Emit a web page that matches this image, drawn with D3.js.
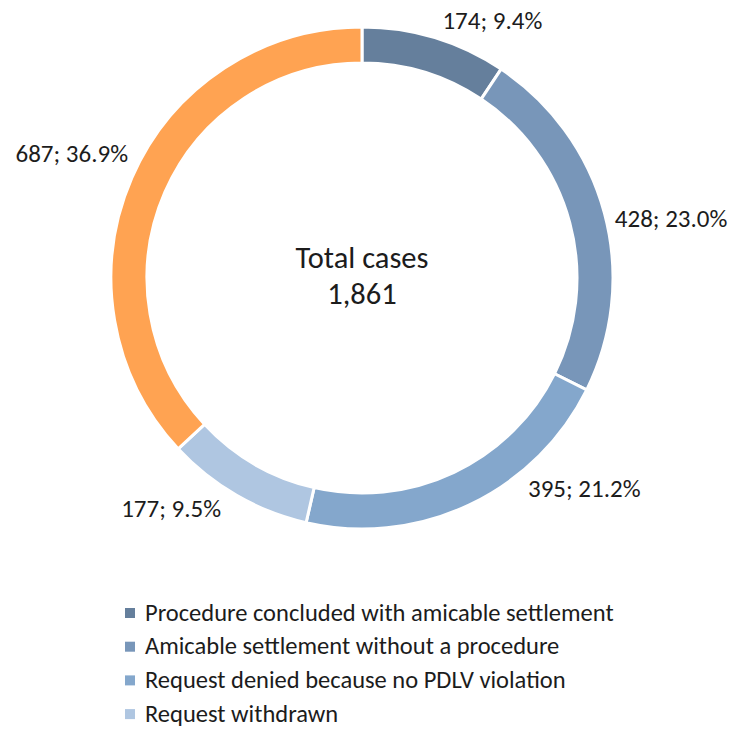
<!DOCTYPE html>
<html>
<head>
<meta charset="utf-8">
<script src="https://cdn.jsdelivr.net/npm/d3@7"></script>
<style>
  html, body { margin: 0; padding: 0; background: #ffffff; }
  svg { display: block; }
  text { font-family: Carlito, Calibri, Lato, sans-serif; fill: #1c1c1c; }
</style>
</head>
<body>
<svg id="chart" width="734" height="729"></svg>
<script>
// Case outcomes, drawn clockwise from twelve o'clock
const categories = [
  "Procedure concluded with amicable settlement",
  "Amicable settlement without a procedure",
  "Request denied because no PDLV violation",
  "Request withdrawn",
  "Other"
];
const caseCounts = [174, 428, 395, 177, 687];
const sharePct = [9.4, 23.0, 21.2, 9.5, 36.9];
const totalLabel = "Total cases";
const totalCases = 1861;
const sliceColors = ["#657f9c", "#7896b9", "#84a7cc", "#afc6e1", "#ffa352"];
// categories shown in the legend (first four)
const legendCount = 4;

// fine placement of each value label relative to its slice
const labelNudge = [[2, 2], [-9, 10], [50, -35], [-5.5, -4.5], [14.5, -16]];

const W = 734, H = 729;
const cx = 362, cy = 278;
const outerR = 251, innerR = 215;

const svg = d3.select("#chart");
const g = svg.append("g").attr("transform", `translate(${cx},${cy})`);

const data = categories.map((c, i) => ({ name: c, value: caseCounts[i], pct: sharePct[i], color: sliceColors[i], i }));

const pie = d3.pie().value(d => d.value).sort(null);
const arcs = pie(data);

const arc = d3.arc().innerRadius(innerR).outerRadius(outerR);
const labelArc = d3.arc().innerRadius(outerR + 20).outerRadius(outerR + 20);

g.selectAll("path.slice")
  .data(arcs)
  .join("path")
  .attr("class", "slice")
  .attr("d", arc)
  .attr("fill", d => d.data.color)
  .attr("stroke", "#ffffff")
  .attr("stroke-width", 3)
  .attr("stroke-linejoin", "miter");

const fmt = d3.format(",");
g.selectAll("text.val")
  .data(arcs)
  .join("text")
  .attr("class", "val")
  .attr("x", d => labelArc.centroid(d)[0] + labelNudge[d.index][0])
  .attr("y", d => labelArc.centroid(d)[1] + labelNudge[d.index][1])
  .attr("dy", "0.35em")
  .attr("text-anchor", d => ((d.startAngle + d.endAngle) / 2 < Math.PI ? "start" : "end"))
  .style("font-size", "25px")
  .text(d => `${fmt(d.data.value)}; ${d.data.pct.toFixed(1)}%`);

// centre caption
const centre = g.append("text").attr("text-anchor", "middle").style("font-size", "30.5px");
centre.append("tspan").attr("x", 0).attr("y", -10).text(totalLabel);
centre.append("tspan").attr("x", 0).attr("y", 26).text(fmt(totalCases));

// legend
const legend = svg.append("g").attr("transform", "translate(125,612)");
const rowH = 33.7;
const rows = legend.selectAll("g.row")
  .data(data.slice(0, legendCount))
  .join("g")
  .attr("class", "row")
  .attr("transform", (d, i) => `translate(0,${i * rowH})`);
rows.append("rect")
  .attr("x", 0).attr("y", -4)
  .attr("width", 10).attr("height", 10)
  .attr("fill", d => d.color);
rows.append("text")
  .attr("x", 20).attr("y", 0)
  .attr("dy", "0.35em")
  .style("font-size", "24.5px")
  .text(d => d.name);
</script>
</body>
</html>
